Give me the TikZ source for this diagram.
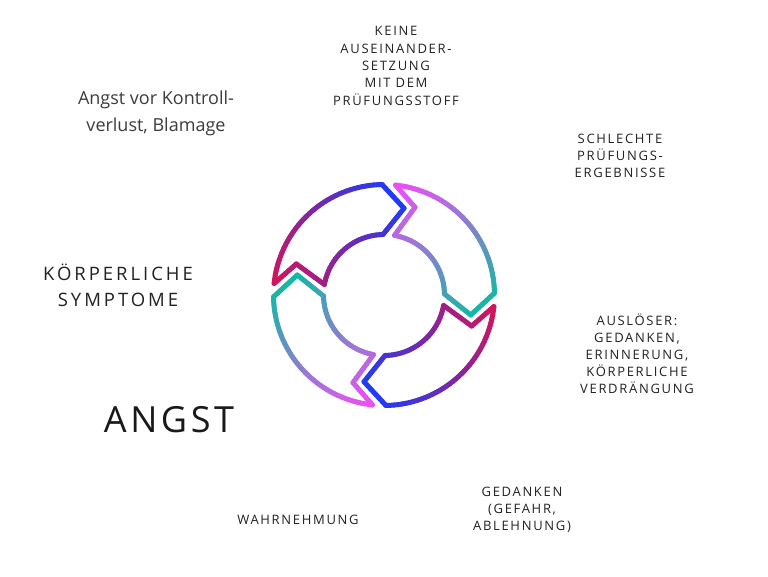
\documentclass[tikz,border=0pt]{standalone}
\usepackage{fontspec}
\setmainfont{Open Sans}
\newfontfamily\labfont[LetterSpace=13]{Open Sans}
\newfontfamily\midfont[LetterSpace=16]{Open Sans}
\newfontfamily\bigfont[LetterSpace=10]{Open Sans}
\definecolor{crim}{HTML}{D4145A}
\definecolor{cblue}{HTML}{1E3CF5}
\definecolor{cmag}{HTML}{F24DF5}
\definecolor{cteal}{HTML}{14B8A6}
\definecolor{txt}{HTML}{222222}
\definecolor{txtl}{HTML}{3C3C3C}

% gradient colour at point (#1,#2)
\newcommand\gcol[2]{%
  \pgfmathsetmacro\gT{(((#1)-\gAx)/100*(\gBx-\gAx)/100+((#2)-\gAy)/100*(\gBy-\gAy)/100)/\gLL}%
  \pgfmathsetmacro\gT{100*max(0,min(1,\gT))}%
  \colorlet{gc}{\gCB!\gT!\gCA}}
\newcommand\gsetup[4]{%
  \pgfmathsetmacro\gAx{110.5*cos(#1)}\pgfmathsetmacro\gAy{110.5*sin(#1)}%
  \pgfmathsetmacro\gBx{89*cos(#2)}\pgfmathsetmacro\gBy{89*sin(#2)}%
  \pgfmathsetmacro\gLL{((\gBx-\gAx)/100)*((\gBx-\gAx)/100)+((\gBy-\gAy)/100)*((\gBy-\gAy)/100)}%
  \def\gCA{#3}\def\gCB{#4}}
\newcommand\garc[4]{%
  \foreach \gi in {1,...,#4}{%
    \pgfmathsetmacro\gaa{(#1)+((#2)-(#1))*(\gi-1)/#4}%
    \pgfmathsetmacro\gab{(#1)+((#2)-(#1))*\gi/#4}%
    \pgfmathsetmacro\gam{(\gaa+\gab)/2}%
    \gcol{#3*cos(\gam)}{#3*sin(\gam)}%
    \draw[cyc,draw=gc] (\gaa:#3) arc[start angle=\gaa,end angle=\gab,radius=#3];
  }}
\newcommand\glin[4]{%
  \pgfmathsetmacro\gPx{(#2)*cos(#1)}\pgfmathsetmacro\gPy{(#2)*sin(#1)}%
  \pgfmathsetmacro\gQx{(#4)*cos(#3)}\pgfmathsetmacro\gQy{(#4)*sin(#3)}%
  \foreach \gi in {1,...,6}{%
    \pgfmathsetmacro\gsx{\gPx+(\gQx-\gPx)*(\gi-1)/6}%
    \pgfmathsetmacro\gsy{\gPy+(\gQy-\gPy)*(\gi-1)/6}%
    \pgfmathsetmacro\gex{\gPx+(\gQx-\gPx)*\gi/6}%
    \pgfmathsetmacro\gey{\gPy+(\gQy-\gPy)*\gi/6}%
    \gcol{(\gsx+\gex)/2}{(\gsy+\gey)/2}%
    \draw[cyc,draw=gc] (\gsx,\gsy) -- (\gex,\gey);
  }}
\newcommand\gseg[3]{%
  \pgfmathsetmacro\gTo{174-#1}%
  \pgfmathsetmacro\gTi{170-#1}%
  \pgfmathsetmacro\gNo{160.5-#1}%
  \pgfmathsetmacro\gHo{91-#1}%
  \pgfmathsetmacro\gHi{91-#1}%
  \pgfmathsetmacro\gTp{77-#1}%
  \gsetup{\gTo}{\gTp}{#2}{#3}%
  \garc{\gTo}{\gHo}{110.5}{40}%
  \glin{\gHo}{110.5}{\gTp}{89}%
  \glin{\gTp}{89}{\gHi}{60.5}%
  \garc{\gHi}{\gTi}{60.5}{24}%
  \glin{\gTi}{60.5}{\gNo}{93}%
  \glin{\gNo}{93}{\gTo}{110.5}%
}

\begin{document}
\begin{tikzpicture}[x=1pt,y=1pt,
  cyc/.style={line width=5pt,line cap=round,line join=round},
  lab/.style={align=center,inner sep=0pt,text=txt,font=\fontsize{13}{17.3}\selectfont\labfont}]
\useasboundingbox (0,0) rectangle (768,576);
\fill[white] (0,0) rectangle (768,576);

% cycle graphic
\begin{scope}[shift={(384,281)}]
  \gseg{0}{crim}{cblue}
  \gseg{90}{cmag}{cteal}
  \gseg{180}{crim}{cblue}
  \gseg{270}{cmag}{cteal}
\end{scope}

% labels
\node[lab] (keine) at (396,510) {KEINE\\AUSEINANDER-\\SETZUNG\\MIT DEM\\PRÜFUNGSSTOFF};
\node[lab,text=txtl,font=\fontsize{18}{27}\selectfont] (kontroll) at (156,462.5) {Angst vor Kontroll-\\verlust, Blamage};
\node[lab] (schlecht) at (620,420.3) {SCHLECHTE\\PRÜFUNGS-\\ERGEBNISSE};
\node[lab,font=\fontsize{18.5}{26}\selectfont\midfont] (koerper) at (118,291) {KÖRPERLICHE\\SYMPTOME};
\node[lab,font=\fontsize{13}{17}\selectfont\labfont] (ausl) at (637,222) {AUSLÖSER:\\GEDANKEN,\\ERINNERUNG,\\KÖRPERLICHE\\VERDRÄNGUNG};
\node[lab,text=black!90,font=\fontsize{36}{40}\selectfont\bigfont] (angst) at (169,156) {ANGST};
\node[lab] (wahr) at (298,56) {WAHRNEHMUNG};
\node[lab,font=\fontsize{13}{17}\selectfont\labfont] (gedanken) at (522,66) {GEDANKEN\\(GEFAHR,\\ABLEHNUNG)};
\end{tikzpicture}
\end{document}
